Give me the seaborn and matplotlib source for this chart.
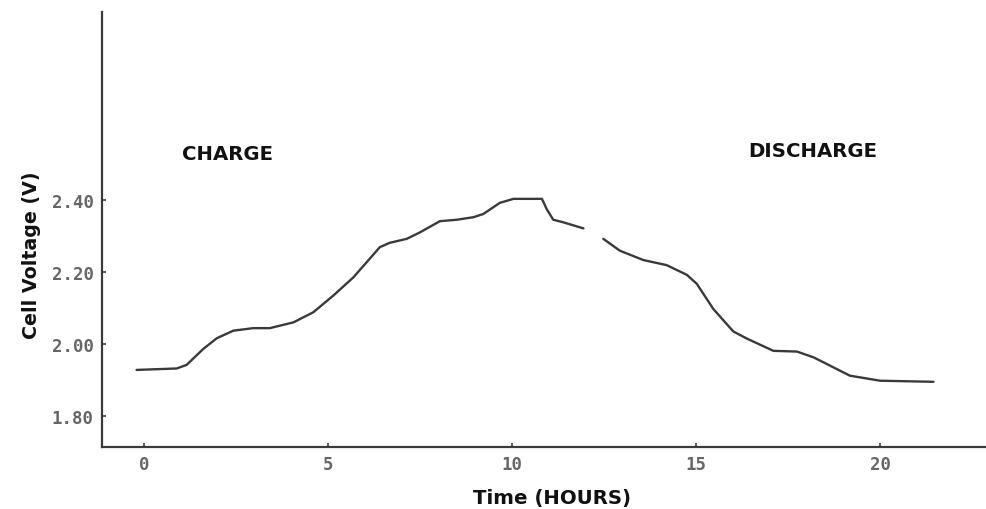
import matplotlib
matplotlib.use("Agg")
import matplotlib.pyplot as plt
import seaborn as sns
import pandas as pd

# Data (hours, volts); the trace has a small gap near 12 h
hours_a = [-0.2, 0.89, 1.16, 1.61, 1.98, 2.43, 2.97, 3.42, 4.06, 4.6, 5.14, 5.69,
           6.05, 6.41, 6.68, 7.14, 7.5, 8.04, 8.5, 8.95, 9.22, 9.67, 10.04, 10.81,
           10.85, 10.94, 11.12, 11.39, 11.94]
volts_a = [1.928, 1.932, 1.942, 1.986, 2.016, 2.037, 2.044, 2.044, 2.06, 2.088, 2.134, 2.185,
           2.227, 2.269, 2.281, 2.292, 2.31, 2.341, 2.345, 2.352, 2.361, 2.392, 2.403, 2.403,
           2.395, 2.375, 2.345, 2.338, 2.321]
hours_b = [12.48, 12.93, 13.57, 14.2, 14.75, 15.02, 15.47, 16.01, 16.38, 17.1, 17.74,
           18.19, 19.18, 20.0, 21.45]
volts_b = [2.292, 2.259, 2.233, 2.219, 2.192, 2.167, 2.097, 2.035, 2.015, 1.981, 1.979,
           1.963, 1.912, 1.898, 1.895]

x_ticks = [0, 5, 10, 15, 20]
y_ticks = [1.80, 2.00, 2.20, 2.40]
y_tick_labels = ["1.80", "2.00", "2.20", "2.40"]
x_label = "Time (HOURS)"
y_label = "Cell Voltage (V)"
phase_labels = ["CHARGE", "DISCHARGE"]

df = pd.DataFrame({
    "hours": hours_a + hours_b,
    "volts": volts_a + volts_b,
    "seg": ["a"] * len(hours_a) + ["b"] * len(hours_b),
})

sns.set_theme(style="white")
plt.rcParams["font.family"] = ["DejaVu Sans"]

fig = plt.figure(figsize=(9.87, 5.10), dpi=100)
ax = fig.add_axes([0.1033, 0.1216, 0.8947, 0.853])

sns.lineplot(data=df, x="hours", y="volts", units="seg", estimator=None,
             color="#3a3a3a", linewidth=1.7, ax=ax, sort=False)

ax.set_xlim(-1.14, 22.85)
ax.set_ylim(1.714, 2.922)

for side in ["top", "right"]:
    ax.spines[side].set_visible(False)
for side in ["left", "bottom"]:
    ax.spines[side].set_color("#3a3a3a")
    ax.spines[side].set_linewidth(1.6)

mono = ["DejaVu Sans Mono"]
ax.set_xticks(x_ticks)
ax.set_xticklabels([str(t) for t in x_ticks], family=mono,
                   fontsize=12.5, color="#666666", fontweight="bold")
ax.set_yticks(y_ticks)
ax.set_yticklabels(y_tick_labels, family=mono,
                   fontsize=12.5, color="#666666", fontweight="bold")
ax.tick_params(axis="both", direction="in", length=3, width=1.2,
               color="#3a3a3a", left=True, bottom=True, pad=6)

ax.set_xlabel(x_label, fontsize=14.2, fontweight="bold", color="#111111", labelpad=8)
ax.xaxis.set_label_coords(0.51, -0.095)
ax.set_ylabel(y_label, fontsize=13.7, fontweight="bold", color="#111111")
ax.yaxis.set_label_coords(-0.0695, 0.444)

ax.text(1.03, 2.528, phase_labels[0], fontsize=14.2, fontweight="bold",
        color="#111111", ha="left", va="center")
ax.text(16.41, 2.536, phase_labels[1], fontsize=14.2, fontweight="bold",
        color="#111111", ha="left", va="center")

fig.savefig("out.png", dpi=100)
